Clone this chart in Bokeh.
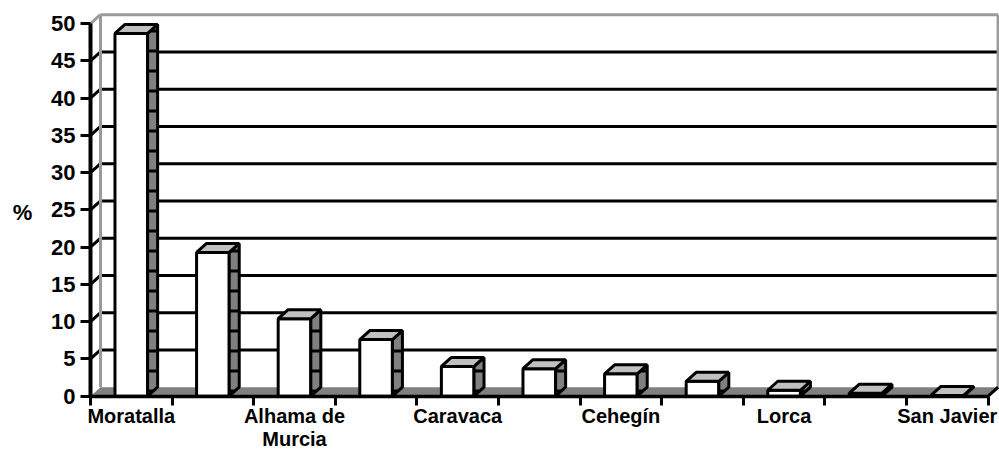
from bokeh.plotting import figure
from bokeh.models import FixedTicker, Range1d
from bokeh.embed import file_html
from bokeh.resources import INLINE
from bokeh.core.properties import value

# ---- data ----
categories = ["Moratalla", "", "Alhama de Murcia", "", "Caravaca", "",
              "Cehegín", "", "Lorca", "", "San Javier"]
percent = [48.7, 19.3, 10.4, 7.6, 4.0, 3.7, 3.0, 2.0, 0.8, 0.4, 0.1]
y_ticks = [0, 5, 10, 15, 20, 25, 30, 35, 40, 45, 50]
y_label = "%"

# ---- geometry / style ----
N = len(categories)
W, H = 999, 452
AX_LEFT = 90          # px from figure left to y axis
AX_BOTTOM = 56.3      # px from figure bottom to x axis
PX_X = 81.6           # pixels per category
PX_Y = 7.45           # pixels per percent unit
DX = 10 / PX_X        # 3D depth offset (x)
DY = 9 / PX_Y         # 3D depth offset (y)
BAR_W = 0.4
FONT = "Liberation Sans"
GRAY = "#808080"
LIGHT = "#c0c0c0"
WALL = "#9a9a9a"
YMAX = y_ticks[-1]

x0 = -AX_LEFT / PX_X
y0 = -AX_BOTTOM / PX_Y
p = figure(width=W, height=H, output_backend="svg", toolbar_location=None,
           x_range=Range1d(x0, x0 + W / PX_X), y_range=Range1d(y0, y0 + H / PX_Y),
           min_border=0, min_border_left=0, min_border_right=0, min_border_top=0,
           min_border_bottom=0)
p.outline_line_color = None
p.xgrid.visible = False
p.ygrid.visible = False
p.background_fill_color = "white"
p.border_fill_color = "white"

# back wall gridlines + diagonals
gv = [v for v in y_ticks if 0 < v < YMAX]
p.segment(x0=[DX] * len(gv), y0=[v + DY for v in gv], x1=[N + DX] * len(gv),
          y1=[v + DY for v in gv], line_color="black", line_width=3)
p.segment(x0=[0] * len(gv), y0=gv, x1=[DX] * len(gv), y1=[v + DY for v in gv],
          line_color="black", line_width=3)
# wall border (gray)
p.segment(x0=[DX, DX, N + DX, 0], y0=[YMAX + DY, DY, DY, YMAX],
          x1=[N + DX, DX, N + DX, DX], y1=[YMAX + DY, YMAX + DY, YMAX + DY, YMAX + DY],
          line_color=WALL, line_width=3)
# floor
p.patch([0, N, N + DX, DX], [0, 0, DY, DY], fill_color=GRAY, line_color=None)
p.segment(x0=[N], y0=[0], x1=[N + DX], y1=[DY], line_color="black", line_width=3)

# bars
fx, fy, sx, sy, tx, ty = [], [], [], [], [], []
for i, v in enumerate(percent):
    c = i + 0.5
    l, r = c - BAR_W / 2, c + BAR_W / 2
    fx.append([l, r, r, l]); fy.append([0, 0, v, v])
    sx.append([r, r + DX, r + DX, r]); sy.append([0, DY, v + DY, v])
    tx.append([l, r, r + DX, l + DX]); ty.append([v, v, v + DY, v + DY])
p.patches(fx, fy, fill_color="white", line_color="black", line_width=3)
p.patches(sx, sy, fill_color=GRAY, line_color="black", line_width=3,
          hatch_pattern="horizontal_line", hatch_scale=20, hatch_weight=3,
          hatch_color="black")
p.patches(tx, ty, fill_color=LIGHT, line_color="black", line_width=3)

# x axis
xa = p.xaxis[0]
xa.fixed_location = 0
lab_ticks = [i + 0.5 for i, c in enumerate(categories) if c]
xa.ticker = FixedTicker(ticks=lab_ticks, minor_ticks=list(range(N + 1)))
xa.major_label_overrides = {i + 0.5: c.replace(" de ", " de\n") for i, c in enumerate(categories) if c}
xa.major_tick_line_color = None
xa.major_tick_out = 0
xa.major_tick_in = 0
xa.minor_tick_out = 9
xa.minor_tick_in = 0
xa.minor_tick_line_width = 3
xa.minor_tick_line_color = "black"
xa.axis_line_width = 3.5
xa.axis_line_color = "black"
xa.bounds = (0, N)
xa.major_label_text_font = FONT
xa.major_label_text_font_style = "bold"
xa.major_label_text_font_size = "20px"
xa.major_label_text_color = "black"
xa.major_label_text_line_height = 1.05
xa.major_label_standoff = 0

# y axis
ya = p.yaxis[0]
ya.fixed_location = 0
ya.ticker = FixedTicker(ticks=y_ticks)
ya.major_tick_out = 10
ya.major_tick_in = 0
ya.major_tick_line_width = 3
ya.major_tick_line_color = "black"
ya.minor_tick_line_color = None
ya.axis_line_width = 4
ya.axis_line_color = "black"
ya.bounds = (0, YMAX)
ya.major_label_text_font = FONT
ya.major_label_text_font_style = "bold"
ya.major_label_text_font_size = "22px"
ya.major_label_text_color = "black"
ya.major_label_standoff = 5

p.text(x=[(22 - AX_LEFT) / PX_X], y=[24.6], text=[y_label], text_align="center",
       text_baseline="middle", text_font=value(FONT), text_font_style="bold",
       text_font_size="22px", text_color="black")

open("out.html", "w").write(file_html(p, INLINE))
